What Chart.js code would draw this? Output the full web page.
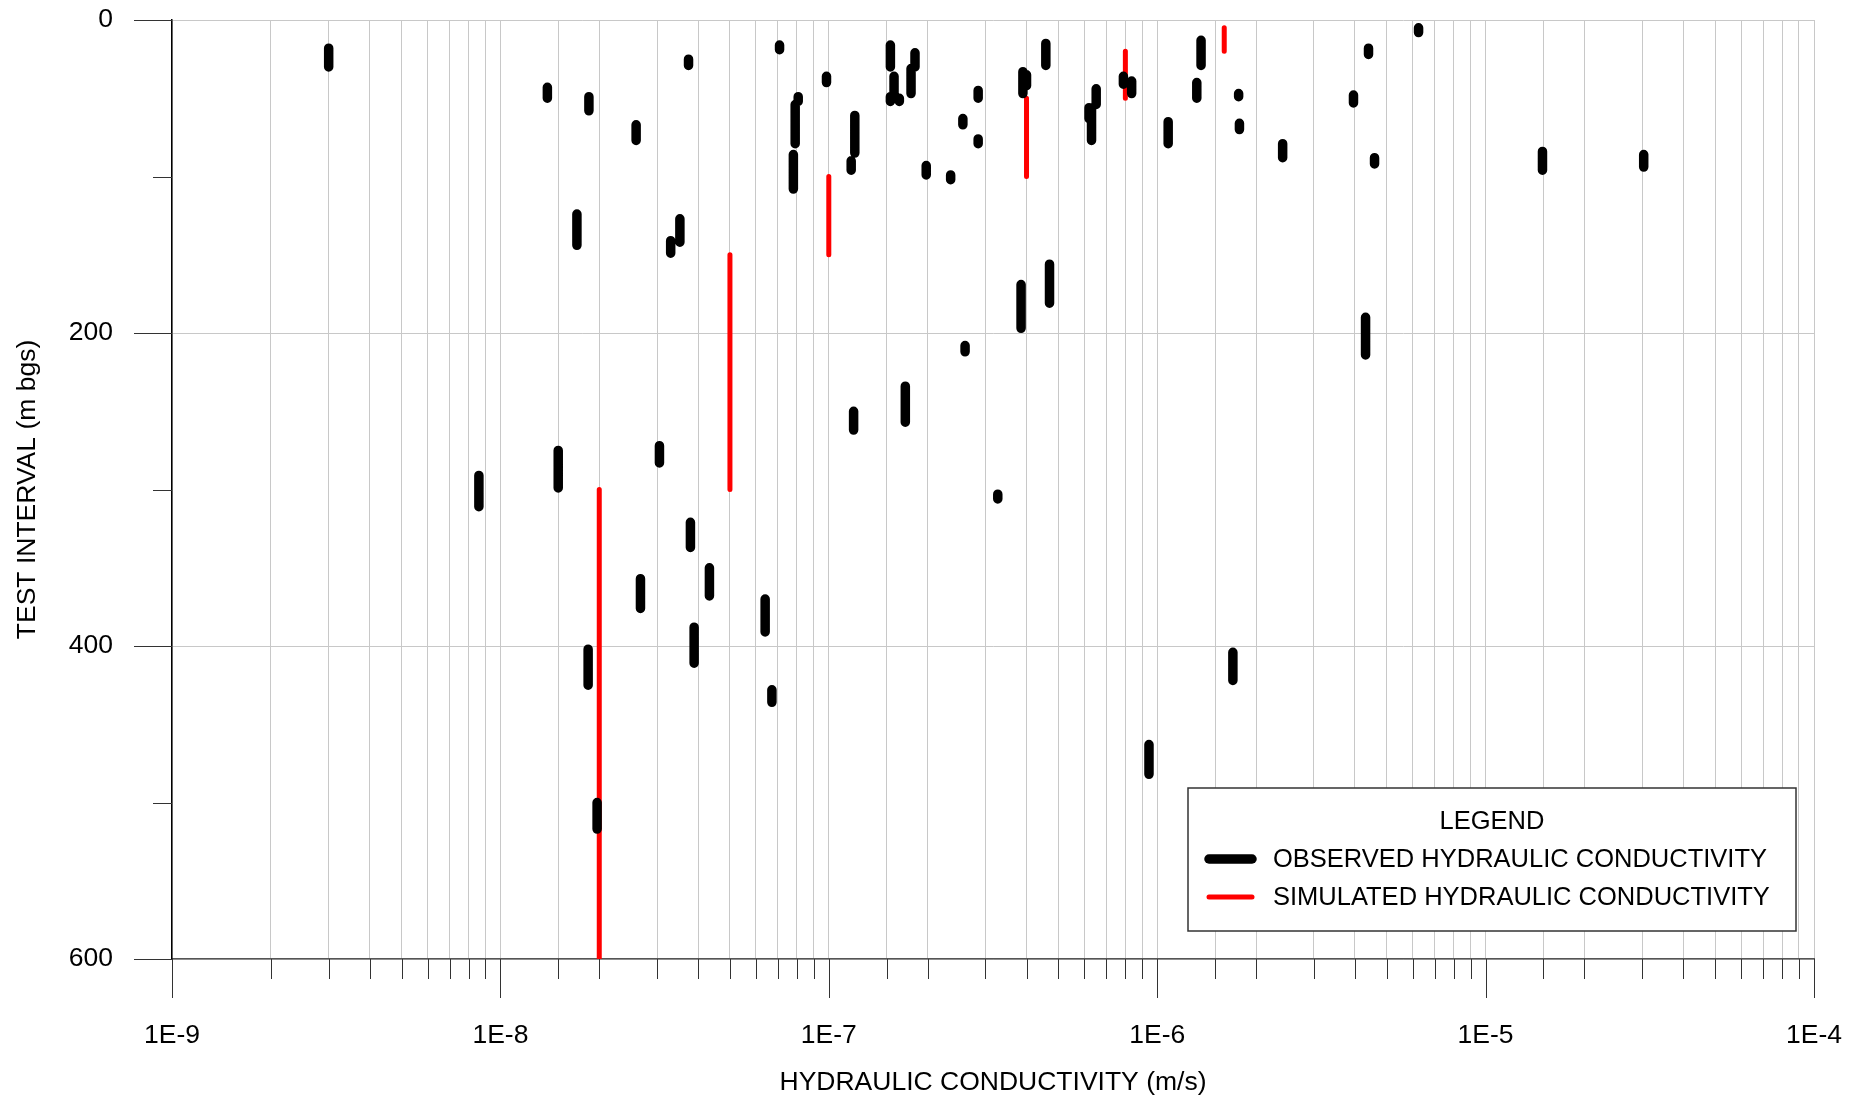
<!DOCTYPE html>
<html>
<head>
<meta charset="utf-8">
<title>Hydraulic conductivity vs test interval</title>
<script src="https://cdn.jsdelivr.net/npm/chart.js@4.4.1/dist/chart.umd.min.js"></script>
<style>
  html, body { margin: 0; padding: 0; background: #fff; }
  canvas { display: block; }
</style>
</head>
<body>
<canvas id="myChart" width="1864" height="1099"></canvas>
<script>
// observed hydraulic conductivity (m/s) with test interval top / bottom (m bgs)
const obsK = [3.0e-9, 1.39e-8, 1.86e-8, 2.59e-8, 3.74e-8, 1.71e-8, 3.3e-8, 3.52e-8,
  7.08e-8, 9.84e-8, 8.07e-8, 7.9e-8, 7.8e-8, 1.2e-7, 1.17e-7, 1.54e-7, 1.58e-7, 1.54e-7,
  1.64e-7, 1.83e-7, 1.78e-7, 2.85e-7, 2.56e-7, 2.85e-7, 1.98e-7, 2.35e-7, 3.9e-7, 4.0e-7,
  4.58e-7, 6.31e-7, 6.2e-7, 6.52e-7, 7.89e-7, 8.36e-7, 1.36e-6, 1.32e-6, 1.77e-6, 1.78e-6,
  1.08e-6, 6.25e-6, 4.4e-6, 3.96e-6, 2.41e-6, 4.59e-6, 1.49e-5, 3.03e-5,
  8.6e-9, 1.5e-8, 3.05e-8, 3.79e-8, 2.67e-8, 4.33e-8, 6.4e-8, 3.89e-8, 1.85e-8, 6.71e-8,
  1.97e-8, 3.85e-7, 4.7e-7, 2.6e-7, 1.71e-7, 1.19e-7, 3.27e-7, 4.31e-6, 1.7e-6, 9.44e-7];
const obsTop = [18, 43, 49, 67, 25, 124, 141, 127,
  16, 36, 49, 54, 86, 61, 90, 16, 36, 49,
  50, 21, 31, 45, 63, 76, 93, 99, 33, 35,
  15, 56, 56, 44, 36, 39, 13, 40, 47, 66,
  65, 5, 18, 48, 79, 88, 84, 86,
  291, 275, 272, 321, 357, 350, 370, 388, 402, 428,
  500, 169, 156, 208, 234, 250, 303, 190, 404, 463];
const obsBottom = [30, 50, 58, 77, 29, 144, 149, 142,
  19, 40, 52, 79, 108, 85, 96, 30, 48, 52,
  52, 30, 47, 50, 67, 79, 99, 102, 47, 42,
  29, 77, 63, 54, 41, 47, 29, 50, 49, 70,
  79, 8, 22, 53, 88, 92, 96, 94,
  311, 299, 283, 337, 376, 368, 391, 411, 425, 436,
  517, 197, 181, 212, 257, 262, 306, 214, 422, 482];

// simulated hydraulic conductivity profile
const simK = [2e-8, 5e-8, 1e-7, 4e-7, 8e-7, 1.6e-6];
const simTop = [300, 150, 100, 50, 20, 5];
const simBottom = [600, 300, 150, 100, 50, 20];

// axis labels
const xDecades = [1e-9, 1e-8, 1e-7, 1e-6, 1e-5, 1e-4];
const xDecadeLabels = ['1E-9', '1E-8', '1E-7', '1E-6', '1E-5', '1E-4'];
const yLabelValues = [0, 200, 400, 600];

const legendTitle = 'LEGEND';
const seriesNames = ['OBSERVED HYDRAULIC CONDUCTIVITY', 'SIMULATED HYDRAULIC CONDUCTIVITY'];

const FONT = '"Liberation Sans", Arial, sans-serif';
Chart.defaults.font.family = FONT;
Chart.defaults.color = '#000';

// each interval is a vertical line: top point, bottom point, then a gap
function toSegments(k, top, bottom) {
  const pts = [];
  for (let i = 0; i < k.length; i++) {
    pts.push({x: k[i], y: top[i]}, {x: k[i], y: bottom[i]}, {x: k[i], y: null});
  }
  return pts;
}

function decadeLabel(v) {
  for (let i = 0; i < xDecades.length; i++) {
    if (Math.abs(v / xDecades[i] - 1) < 1e-6) return xDecadeLabels[i];
  }
  return '';
}

// keep the plot box fixed: no extra padding from the tick labels
function noPad(scale) {
  scale.paddingLeft = 0;
  scale.paddingRight = 0;
  scale.paddingTop = 0;
  scale.paddingBottom = 0;
}

// outer tick marks, long at labelled values and short in between
const tickMarks = {
  id: 'tickMarks',
  afterDraw(chart) {
    const {ctx, chartArea, scales} = chart;
    ctx.save();
    ctx.strokeStyle = '#333';
    ctx.lineWidth = 1;
    ctx.beginPath();
    scales.x.ticks.forEach(t => {
      const px = Math.round(scales.x.getPixelForValue(t.value)) + 0.5;
      const len = decadeLabel(t.value) ? 39 : 20;
      ctx.moveTo(px, chartArea.bottom);
      ctx.lineTo(px, chartArea.bottom + len);
    });
    scales.y.ticks.forEach(t => {
      const py = Math.round(scales.y.getPixelForValue(t.value)) + 0.5;
      const len = yLabelValues.includes(t.value) ? 38 : 19;
      ctx.moveTo(chartArea.left - len, py);
      ctx.lineTo(chartArea.left, py);
    });
    ctx.stroke();
    ctx.restore();
  }
};

// boxed legend in the lower right of the plot
const boxLegend = {
  id: 'boxLegend',
  afterDraw(chart) {
    const {ctx, chartArea} = chart;
    const w = 608, h = 143;
    const x0 = chartArea.right - 18 - w;
    const y0 = chartArea.bottom - 28 - h;
    ctx.save();
    ctx.fillStyle = '#fff';
    ctx.fillRect(x0, y0, w, h);
    ctx.strokeStyle = '#333';
    ctx.lineWidth = 1.5;
    ctx.strokeRect(x0, y0, w, h);

    ctx.fillStyle = '#000';
    ctx.font = '25.5px ' + FONT;
    ctx.textBaseline = 'middle';
    ctx.textAlign = 'center';
    ctx.fillText(legendTitle, x0 + w / 2, y0 + 34);

    ctx.textAlign = 'left';
    chart.data.datasets.forEach((ds, i) => {
      const y = y0 + 71 + i * 38;
      ctx.strokeStyle = ds.borderColor;
      ctx.lineWidth = ds.borderWidth;
      ctx.lineCap = 'round';
      ctx.beginPath();
      ctx.moveTo(x0 + 21, y);
      ctx.lineTo(x0 + 64, y);
      ctx.stroke();
      ctx.fillText(ds.label, x0 + 85, y + 1);
    });
    ctx.restore();
  }
};

const ctx = document.getElementById('myChart').getContext('2d');
const myChart = new Chart(ctx, {
  type: 'line',
  data: {
    datasets: [{
      label: seriesNames[0],
      data: toSegments(obsK, obsTop, obsBottom),
      borderColor: '#000000',
      borderWidth: 9.5,
      borderCapStyle: 'round',
      pointRadius: 0,
      spanGaps: false,
      fill: false
    }, {
      label: seriesNames[1],
      data: toSegments(simK, simTop, simBottom),
      borderColor: '#ff0000',
      borderWidth: 5,
      borderCapStyle: 'round',
      pointRadius: 0,
      spanGaps: false,
      fill: false
    }]
  },
  options: {
    responsive: false,
    animation: false,
    devicePixelRatio: 1,
    layout: { padding: { top: 20, right: 50, bottom: 0, left: 0 } },
    plugins: {
      legend: { display: false },
      tooltip: { enabled: false }
    },
    scales: {
      x: {
        type: 'logarithmic',
        min: 1e-9,
        max: 1e-4,
        afterFit(scale) { scale.height = 140; noPad(scale); },
        grid: { color: '#c8c8c8', lineWidth: 1, drawTicks: false },
        border: { color: '#555', width: 1.5 },
        ticks: {
          autoSkip: false,
          maxRotation: 0,
          minRotation: 0,
          padding: 61,
          font: { size: 26.5 },
          callback: v => decadeLabel(v)
        },
        title: {
          display: true,
          text: 'HYDRAULIC CONDUCTIVITY (m/s)',
          font: { size: 26.5 },
          padding: { top: 0, bottom: 0 }
        }
      },
      y: {
        type: 'linear',
        reverse: true,
        min: 0,
        max: 600,
        afterFit(scale) { scale.width = 172; noPad(scale); },
        grid: {
          color: c => yLabelValues.includes(c.tick.value) ? '#c8c8c8' : 'rgba(0,0,0,0)',
          drawTicks: false
        },
        border: { color: '#000', width: 1.5 },
        ticks: {
          stepSize: 100,
          padding: 59,
          font: { size: 26.5 },
          callback: v => yLabelValues.includes(v) ? String(v) : ''
        },
        title: {
          display: true,
          text: 'TEST INTERVAL (m bgs)',
          font: { size: 26.5 },
          padding: { top: 12, bottom: 0 }
        }
      }
    }
  },
  plugins: [tickMarks, boxLegend]
});
</script>
</body>
</html>
